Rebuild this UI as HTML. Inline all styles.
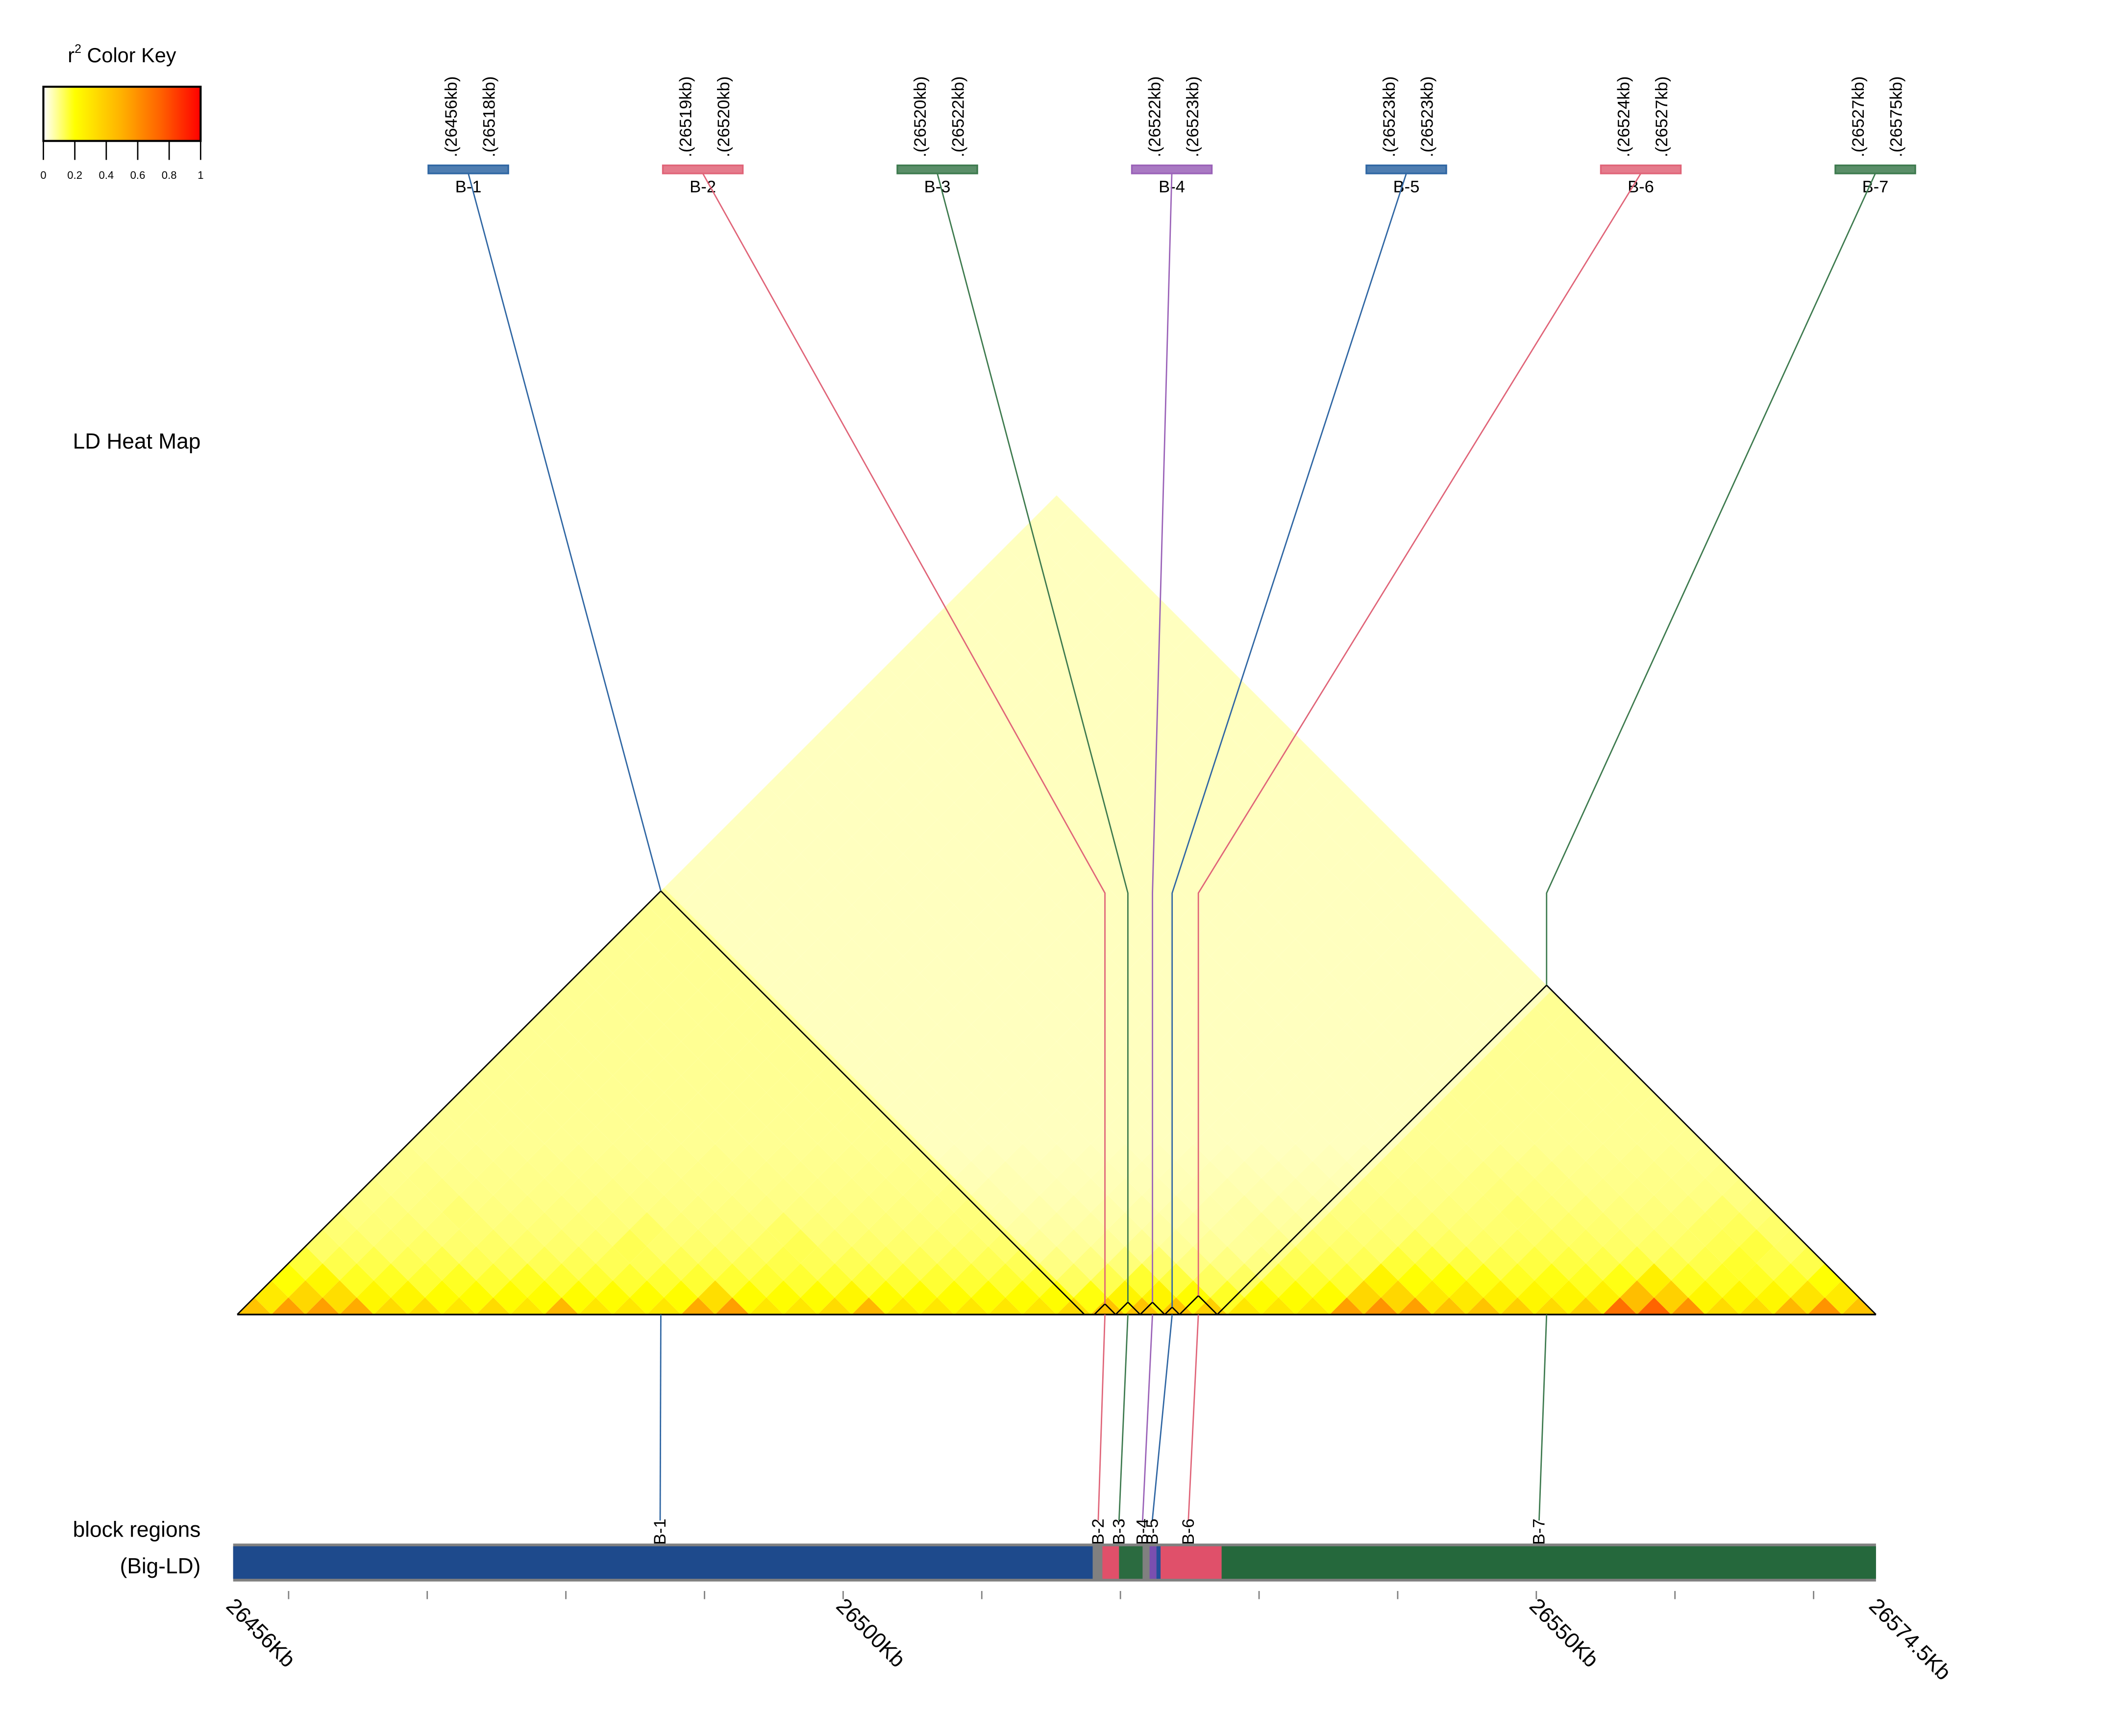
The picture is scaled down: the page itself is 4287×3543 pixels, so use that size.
<!DOCTYPE html>
<html><head><meta charset="utf-8"><style>
html,body{margin:0;padding:0;background:#fff}
svg{display:block}
text{font-family:"Liberation Sans",Arial,sans-serif;fill:#000}
</style></head><body>
<svg id="root" width="4287" height="3543" viewBox="0 0 1550 1281" xmlns="http://www.w3.org/2000/svg">
<defs>
<linearGradient id="keyGrad" x1="0" x2="1" y1="0" y2="0">
<stop offset="0" stop-color="#ffffff"/><stop offset="0.2" stop-color="#ffff00"/><stop offset="0.5" stop-color="#ffb000"/><stop offset="0.75" stop-color="#ff6000"/><stop offset="1" stop-color="#ff0000"/>
</linearGradient>
<clipPath id="triClip"><polygon points="175,970 779.5,365.5 1384,970"/></clipPath>
</defs>
<g>
<text x="90" y="46" font-size="15" text-anchor="middle">r<tspan font-size="9" dy="-7">2</tspan><tspan dy="7"> Color Key</tspan></text>
<rect x="32" y="64" width="116" height="40" fill="url(#keyGrad)" stroke="#000" stroke-width="1.5"/>
<g id="keyTicks"></g>
</g>
<text x="148" y="331" font-size="16" text-anchor="end">LD Heat Map</text>
<text x="148" y="1134" font-size="16" text-anchor="end">block regions</text>
<text x="148" y="1161" font-size="16" text-anchor="end">(Big-LD)</text>
<g id="heat" clip-path="url(#triClip)"></g>
<g id="blocks"></g>
<g id="bar"></g>
<g id="axis"></g>
</svg>
<script>
// ---- data ----
const keyTicks = [0, 0.2, 0.4, 0.6, 0.8, 1];
const blockNames = ["B-1","B-2","B-3","B-4","B-5","B-6","B-7"];
const blockStartKb = ["26456","26519","26520","26522","26523","26524","26527"];
const blockEndKb = ["26518","26520","26522","26523","26523","26527","26575"];
const blockColors = ["#2f66a3","#e06478","#3d7a4e","#9a62b8","#2f66a3","#e06478","#3d7a4e"];
const blockSnpStart = [0, 523, 536, 551, 566, 575, 598];
const blockSnpEnd = [517, 536, 551, 566, 575, 598, 1000];
const totalSnps = 1000;
const barSegStartKb = [26456, 26518.0, 26518.7, 26519.9, 26521.6, 26522.1, 26522.6, 26522.9, 26527.3];
const barSegEndKb = [26518.0, 26518.7, 26519.9, 26521.6, 26522.1, 26522.6, 26522.9, 26527.3, 26574.5];
const barSegColors = ["#1e4a8c","#808080","#e0506a","#2b6b40","#808080","#7a4fb0","#234f9a","#e0506a","#25683c"];
const axisTicksKb = [26460,26470,26480,26490,26500,26510,26520,26530,26540,26550,26560,26570];
const axisLabelKb = [26456, 26500, 26550, 26574.5];
const axisLabelText = ["26456Kb","26500Kb","26550Kb","26574.5Kb"];
const blockMidKb = [26486.8, 26518.4, 26519.9, 26521.6, 26522.3, 26524.9, 26550.2];
// per-bin near-diagonal LD strength (48 SNP bins)
const hot = [0.45,0.6,0.6,0.55,0.35,0.35,0.3,0.35,0.3,0.5,0.3,0.3,0.3,0.55,0.6,0.3,0.3,0.35,0.5,0.3,0.3,0.3,0.3,0.3,0.35,0.45,0.45,0.45,0.4,0.3,0.3,0.3,0.6,0.65,0.6,0.45,0.45,0.4,0.35,0.4,0.8,0.85,0.65,0.35,0.35,0.5,0.65,0.45];
const decay = [0.75,0.4,0.25,0.16,0.1,0.07,0.05,0.03,0.02,0.01];
const bgR2 = 0.05;

// ---- scales ----
const baseL = 175, baseR = 1384, baseY = 970;
const snpX = i => baseL + (baseR - baseL) * i / totalSnps;
const kbX = kb => 172 + (kb - 26456) * (1384 - 172) / (26574.5 - 26456);
const NS = "http://www.w3.org/2000/svg";
function mk(tag, attrs, parent){const e=document.createElementNS(NS,tag);for(const k in attrs)e.setAttribute(k,attrs[k]);parent.appendChild(e);return e;}
function r2color(v){
  v=Math.max(0,Math.min(1,v));
  if(v<0.2){const t=v/0.2;return `rgb(255,255,${Math.round(255*(1-t))})`;}
  const t=(v-0.2)/0.8;return `rgb(255,${Math.round(255*(1-t))},0)`;
}

// key ticks
const kt = document.getElementById('keyTicks');
keyTicks.forEach(v=>{
  const x = 32 + 116*v;
  const l = mk('line',{x1:x,x2:x,y1:104,y2:118,stroke:'#000','stroke-width':1},kt);
  
  
  const t = mk('text',{x:x,y:132,'font-size':8,'text-anchor':'middle'},kt);
  t.textContent = String(v);
  
  
});

// heatmap
const heat = document.getElementById('heat');
const N = hot.length, w = (baseR-baseL)/N;
const binBlock = i => { const s=(i+0.5)*totalSnps/N; for(let b=0;b<blockSnpStart.length;b++) if(s>=blockSnpStart[b]&&s<blockSnpEnd[b]) return b; return -1; };
for(let i=0;i<N;i++){
  for(let j=i;j<N;j++){
    const d=j-i;
    let v = bgR2 + (d<decay.length ? Math.min(hot[i],hot[j])*decay[d] : 0);
    if(binBlock(i)===binBlock(j) && d>0) v += 0.035;
    const cx = baseL + (i+j+1)*w/2, cy = baseY - d*w/2;
    const p = mk('polygon',{points:`${cx},${cy-w/2} ${cx+w/2},${cy} ${cx},${cy+w/2} ${cx-w/2},${cy}`,fill:r2color(v)},heat);
    
    
  }
}
const bl0 = mk('line',{x1:baseL,x2:baseR,y1:baseY,y2:baseY,stroke:'#000','stroke-width':1.2},document.getElementById('blocks'));



// blocks
const bg = document.getElementById('blocks');
blockNames.forEach((name,b)=>{
  const x0=snpX(blockSnpStart[b]), x1=snpX(blockSnpEnd[b]);
  const ax=(x0+x1)/2, ay=baseY-(x1-x0)/2;
  const tri = mk('polyline',{points:`${x0},${baseY} ${ax},${ay} ${x1},${baseY}`,fill:'none',stroke:'#000','stroke-width':1},bg);
  
  
  const bx = 316 + b*173, bcx = bx+29.5;
  const rect = mk('rect',{x:bx,y:122,width:59,height:6,fill:blockColors[b],stroke:blockColors[b],'stroke-width':1.2,'fill-opacity':0.85},bg);
  
  
  const lbl = mk('text',{x:bcx,y:142,'font-size':12.5,'text-anchor':'middle'},bg);
  lbl.textContent=name;
  
  
  [[blockStartKb[b],bx+21],[blockEndKb[b],bx+49]].forEach(([kb,x])=>{
    const t = mk('text',{x:x,y:116,'font-size':12.5,transform:`rotate(-90 ${x} 116)`},bg);
    t.textContent='.('+kb+'kb)';
    
    
  });
  const bendY = 659;
  const path = b===0 ? `M${bcx},128 L${ax},${ay}` : `M${bcx},128 L${ax},${bendY} L${ax},${ay}`;
  const ln = mk('path',{d:path,fill:'none',stroke:blockColors[b],'stroke-width':1},bg);
  
  
  const mx = kbX(blockMidKb[b]);
  const ln2 = mk('line',{x1:ax,y1:baseY,x2:mx,y2:1122,stroke:blockColors[b],'stroke-width':1},bg);
  
  
  const bl = mk('text',{x:mx+4,y:1140,'font-size':12.5,transform:`rotate(-90 ${mx+4} 1140)`},bg);
  bl.textContent=name;
  
  
});

// region bar
const bar = document.getElementById('bar');
const frame = mk('rect',{x:172,y:1139,width:1212,height:28,fill:'#808080'},bar);


barSegStartKb.forEach((s,k)=>{
  const x0=kbX(s), x1=kbX(barSegEndKb[k]);
  const r = mk('rect',{x:x0,y:1141,width:Math.max(0.5,x1-x0),height:24,fill:barSegColors[k]},bar);
  
  
});

// axis
const ax = document.getElementById('axis');
axisTicksKb.forEach(kb=>{
  const x=kbX(kb);
  const t = mk('line',{x1:x,x2:x,y1:1174,y2:1180,stroke:'#808080','stroke-width':1},ax);
  
  
});
axisLabelKb.forEach((kb,k)=>{
  const x=kbX(kb)-6, y=1186;
  const t = mk('text',{x:x,y:y,'font-size':16,transform:`rotate(45 ${x} ${y})`},ax);
  t.textContent=axisLabelText[k];
  
  
});
</script>
</body></html>
